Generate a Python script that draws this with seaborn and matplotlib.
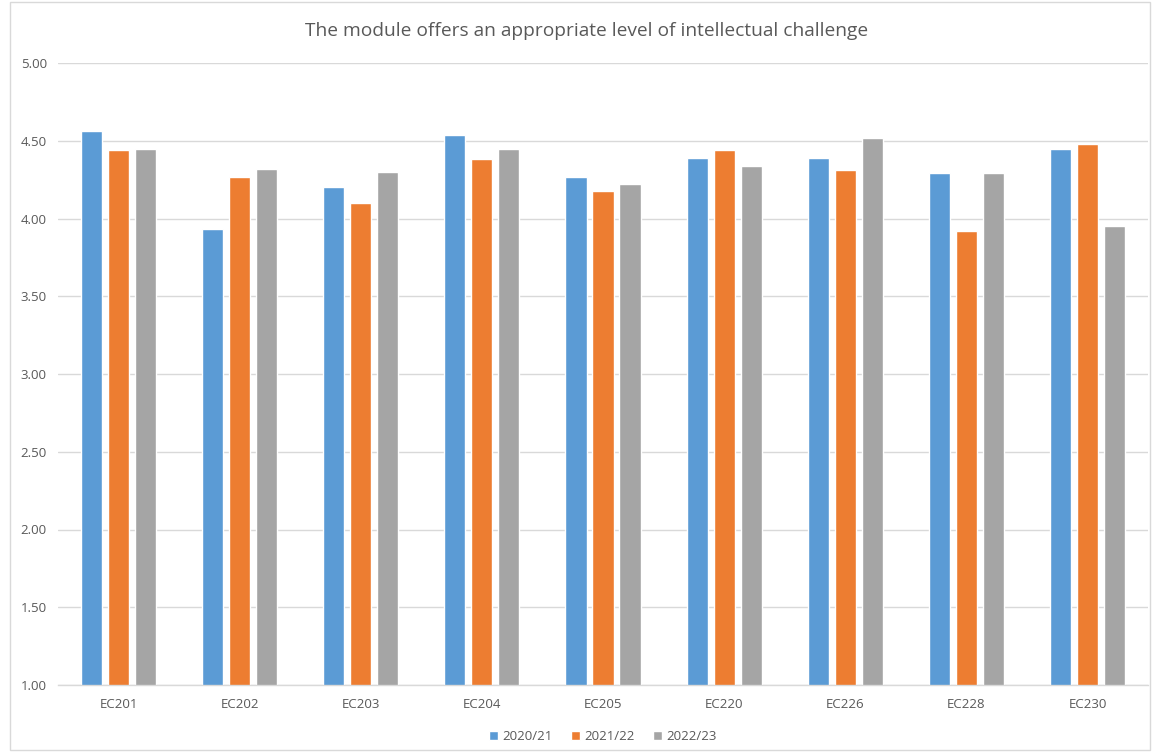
import matplotlib
matplotlib.use("Agg")
import matplotlib.pyplot as plt
import seaborn as sns
import pandas as pd
from matplotlib.patches import Rectangle

modules = ["EC201", "EC202", "EC203", "EC204", "EC205", "EC220", "EC226", "EC228", "EC230"]
years = ["2020/21", "2021/22", "2022/23"]
scores_2020 = [4.56, 3.93, 4.20, 4.54, 4.27, 4.39, 4.39, 4.29, 4.45]
scores_2021 = [4.44, 4.27, 4.10, 4.38, 4.18, 4.44, 4.31, 3.92, 4.48]
scores_2022 = [4.45, 4.32, 4.30, 4.45, 4.22, 4.34, 4.52, 4.29, 3.95]
colors = ["#5b9bd5", "#ed7d31", "#a5a5a5"]

df = pd.DataFrame({
    "module": modules * 3,
    "year": [y for y in years for _ in modules],
    "score": scores_2020 + scores_2021 + scores_2022,
})

sns.set_theme(style="white")
plt.rcParams["font.family"] = ["Open Sans", "DejaVu Sans"]
text_col = "#595959"

fig = plt.figure(figsize=(11.52, 7.55), dpi=100)
ax = fig.add_axes([58 / 1152, 1 - 685 / 755, 1090 / 1152, 622 / 755])

sns.barplot(data=df, x="module", y="score", hue="year", palette=colors,
            width=0.67, gap=0.22, ax=ax, saturation=1, errorbar=None,
            legend=True)

ax.set_ylim(1.0, 5.0)
ax.set_yticks([1.0, 1.5, 2.0, 2.5, 3.0, 3.5, 4.0, 4.5, 5.0])
ax.set_yticklabels([f"{v:.2f}" for v in ax.get_yticks()])
ax.set_xlim(-0.5, len(modules) - 0.5)
ax.grid(axis="y", color="#d9d9d9", linewidth=1)
ax.set_axisbelow(True)
for side in ["top", "right", "left"]:
    ax.spines[side].set_visible(False)
ax.spines["bottom"].set_color("#d9d9d9")
ax.spines["bottom"].set_linewidth(1)
ax.tick_params(axis="both", length=0, colors=text_col, labelsize=9.5)
ax.tick_params(axis="y", pad=8)
ax.tick_params(axis="x", pad=9)
ax.set_xlabel("")
ax.set_ylabel("")

ax.legend(loc="center", bbox_to_anchor=(0.5, -0.083), ncol=3, frameon=False,
          handlelength=0.7, handleheight=0.7, handletextpad=0.3,
          columnspacing=1.4, fontsize=9.5, labelcolor=text_col)

fig.text(587 / 1152, 1 - 31 / 755, "The module offers an appropriate level of intellectual challenge",
         ha="center", va="center", fontsize=13.8, color=text_col)

fig.patches.append(Rectangle((10 / 1152, 5 / 755), 1140 / 1152, 748 / 755,
                             transform=fig.transFigure, fill=False,
                             edgecolor="#d9d9d9", linewidth=1))

fig.savefig("out.png", dpi=100)
